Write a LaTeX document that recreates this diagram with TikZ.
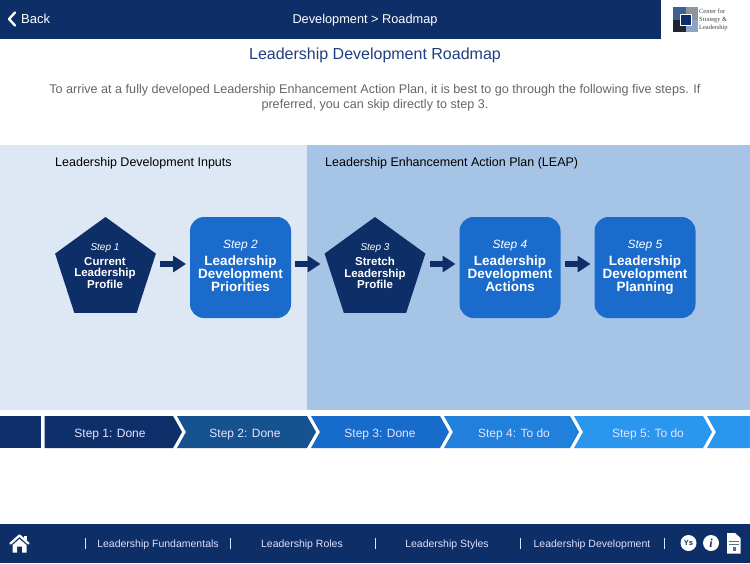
\documentclass[tikz,border=0pt]{standalone}
\usepackage{fontspec}
\setmainfont{Liberation Sans}
\newfontfamily\uifont{Liberation Sans}
\newfontfamily\logofont{Liberation Serif}
\usetikzlibrary{shapes.geometric,arrows.meta}
\definecolor{navy}{HTML}{0D2E66}
\definecolor{stepblue}{HTML}{1A6BCB}
\definecolor{panelL}{HTML}{DEE8F5}
\definecolor{panelR}{HTML}{A6C5E6}
\definecolor{bodygray}{HTML}{666666}
\definecolor{headblue}{HTML}{1F3F80}
\definecolor{bandA}{HTML}{0F2F6B}
\definecolor{bandB}{HTML}{15528F}
\definecolor{bandC}{HTML}{176BCB}
\definecolor{bandD}{HTML}{2080DC}
\definecolor{bandE}{HTML}{2B96EE}
\definecolor{logoA}{HTML}{3F5F95}
\definecolor{logoB}{HTML}{8F959C}
\definecolor{logoC}{HTML}{20242C}
\definecolor{logoD}{HTML}{8FA3C6}
\tikzset{
  x=1pt,y=-1pt,
  pentastep/.style={regular polygon,regular polygon sides=5,minimum size=106pt,inner sep=0pt,fill=navy},
  boxstep/.style={rounded corners=14pt,minimum width=101pt,minimum height=101pt,inner sep=0pt,fill=stepblue},
  flow/.style={draw=navy,line width=5.5pt,-{Triangle[length=13pt,width=16pt]}},
  stepname/.style={text=white,font=\fontsize{11.5}{11.5}\selectfont\bfseries,align=center,inner sep=0pt},
  stepnameB/.style={text=white,font=\fontsize{13.5}{13}\selectfont\bfseries,align=center,inner sep=0pt},
  stepnum/.style={text=white,font=\fontsize{10}{10}\selectfont\itshape,inner sep=0pt},
  stepnumB/.style={text=white,font=\fontsize{12}{12}\selectfont\itshape,inner sep=0pt},
  bandtext/.style={text=white!90!blue,font=\uifont\fontsize{12}{12}\selectfont,inner sep=0pt,text height=9pt,text depth=2.6pt},
  foot/.style={text=white!88!blue,font=\uifont\fontsize{10.5}{10.5}\selectfont,inner sep=0pt},
  pipe/.style={draw=white!88!blue,line width=0.8pt},
  paneltitle/.style={anchor=west,text=black,font=\uifont\fontsize{12.5}{12.5}\selectfont,inner sep=0pt},
  bodyline/.style={text=bodygray,font=\uifont\fontsize{12.6}{12.6}\selectfont,inner sep=0pt},
}
\begin{document}
\begin{tikzpicture}
\useasboundingbox (0,0) rectangle (750,563);
\fill[white] (0,0) rectangle (750,563);
% header
\fill[navy] (0,0) rectangle (661,39);
\draw[white,line width=2.4pt,line cap=round,line join=round] (15,12.5) -- (9,19) -- (15,25.5);
\node[anchor=west,text=white,font=\uifont\fontsize{13}{13}\selectfont,inner sep=0pt] (back) at (21,19) {Back};
\node[text=white,font=\uifont\fontsize{12.75}{12.75}\selectfont,inner sep=0pt] (title) at (365,20) {Development > Roadmap};
% logo
\fill[logoA] (673,7) rectangle (685.5,19.5);
\fill[logoB] (685.5,7) rectangle (698,19.5);
\fill[logoC] (673,19.5) rectangle (685.5,32);
\fill[logoD] (685.5,19.5) rectangle (698,32);
\draw[white,line width=0.8pt,fill=navy] (680,14) rectangle (691,25);
\node[anchor=west,align=left,text=black!75,font=\logofont\fontsize{6.4}{8.4}\selectfont,inner sep=0pt] (logotext) at (699,20) {Center for\\Strategy \&\\Leadership};
% headings
\node[text=headblue,font=\uifont\fontsize{16}{16}\selectfont,inner sep=0pt] (heading) at (375,55.5) {Leadership Development Roadmap};
\node[bodyline] (intro1) at (375,90) {To arrive at a fully developed Leadership Enhancement Action Plan, it is best to go through the following five steps. If};
\node[bodyline] (intro2) at (375,105) {preferred, you can skip directly to step 3.};
% panels
\fill[panelL] (0,145) rectangle (307,410);
\fill[panelR] (307,145) rectangle (750,410);
\node[paneltitle] (inputs) at (55,163.5) {Leadership Development Inputs};
\node[paneltitle] (leap) at (325,163.5) {Leadership Enhancement Action Plan (LEAP)};
% steps
\node[pentastep] (s1) at (105.5,270) {};
\node[boxstep] (s2) at (240.5,267.5) {};
\node[pentastep] (s3) at (375,270) {};
\node[boxstep] (s4) at (510,267.5) {};
\node[boxstep] (s5) at (645,267.5) {};
\node[stepnum] (n1) at (105,248.5) {Step 1};
\node[stepname] (t1) at (105,273) {Current\\[-0.3pt]Leadership\\[-0.3pt]Profile};
\node[stepnumB] (n2) at (240.5,246) {Step 2};
\node[stepnameB] (t2) at (240.5,275) {Leadership\\Development\\Priorities\vphantom{g}};
\node[stepnum] (n3) at (375,248.5) {Step 3};
\node[stepname] (t3) at (375,273) {Stretch\\[-0.3pt]Leadership\\[-0.3pt]Profile};
\node[stepnumB] (n4) at (510,246) {Step 4};
\node[stepnameB] (t4) at (510,275) {Leadership\\Development\\Actions\vphantom{g}};
\node[stepnumB] (n5) at (645,246) {Step 5};
\node[stepnameB] (t5) at (645,275) {Leadership\\Development\\Planning};
% flow arrows
\draw[flow,shorten <=54.5pt,shorten >=4pt] ([yshift=6pt]s1.center) -- ([yshift=3.5pt,xshift=-50.5pt]s2.center);
\draw[flow,shorten <=54.5pt,shorten >=4pt] ([yshift=3.5pt]s2.center) -- ([yshift=6pt,xshift=-50.5pt]s3.center);
\draw[flow,shorten <=55pt,shorten >=4pt] ([yshift=6pt]s3.center) -- ([yshift=3.5pt,xshift=-50.5pt]s4.center);
\draw[flow,shorten <=54.5pt,shorten >=4pt] ([yshift=3.5pt]s4.center) -- ([yshift=3.5pt,xshift=-50.5pt]s5.center);
% band
\fill[bandA] (0,416) rectangle (41,448);
\fill[bandA] (44.7,416) -- (173,416) -- (182,432) -- (173,448) -- (44.7,448) -- cycle;
\fill[bandB] (177,416) -- (307,416) -- (316,432) -- (307,448) -- (177,448) -- (186,432) -- cycle;
\fill[bandC] (311,416) -- (440,416) -- (449,432) -- (440,448) -- (311,448) -- (320,432) -- cycle;
\fill[bandD] (444,416) -- (570,416) -- (579,432) -- (570,448) -- (444,448) -- (453,432) -- cycle;
\fill[bandE] (574,416) -- (703,416) -- (712,432) -- (703,448) -- (574,448) -- (583,432) -- cycle;
\fill[bandE] (707,416) -- (750,416) -- (750,448) -- (707,448) -- (716,432) -- cycle;
\node[bandtext] (b1) at (110,434) {Step 1: Done};
\node[bandtext] (b2) at (245,434) {Step 2: Done};
\node[bandtext] (b3) at (380,434) {Step 3: Done};
\node[bandtext] (b4) at (514,434) {Step 4: To do};
\node[bandtext] (b5) at (648,434) {Step 5: To do};
% footer
\fill[navy] (0,524) rectangle (750,563);
\draw[white,line width=2.3pt,line cap=round,line join=round] (10.5,543.5) -- (19.5,535.5) -- (28.5,543.5);
\fill[white] (24,535.5) rectangle (26.5,540);
\fill[white] (12.5,545) -- (19.5,539) -- (26.5,545) -- (26.5,552.5) -- (22,552.5) -- (22,546.5) -- (17,546.5) -- (17,552.5) -- (12.5,552.5) -- cycle;
\foreach \px in {85,230,375,520,664}{\draw[pipe] (\px,538) -- (\px,549);}
\node[foot] (f1) at (158,544.5) {Leadership Fundamentals};
\node[foot] (f2) at (302,544.5) {Leadership Roles};
\node[foot] (f3) at (447,544.5) {Leadership Styles};
\node[foot] (f4) at (592,544.5) {Leadership Development};
\fill[white] (688.5,543) circle (8);
\node[text=navy,font=\fontsize{7.5}{7.5}\selectfont\bfseries,inner sep=0pt] (ys) at (688.5,543) {Ys};
\fill[white] (711,543) circle (8);
\node[text=navy,font=\logofont\fontsize{12}{12}\selectfont\bfseries\itshape,inner sep=0pt] (info) at (711,543) {i};
\fill[white] (727,533) -- (735,533) -- (740.5,538) -- (740.5,553.5) -- (727,553.5) -- cycle;
\draw[navy!70,line width=0.6pt] (729,541) -- (738.5,541) (729,544) -- (738.5,544);
\fill[navy!70] (732.5,546.5) rectangle (735.5,551);
\end{tikzpicture}
\end{document}
